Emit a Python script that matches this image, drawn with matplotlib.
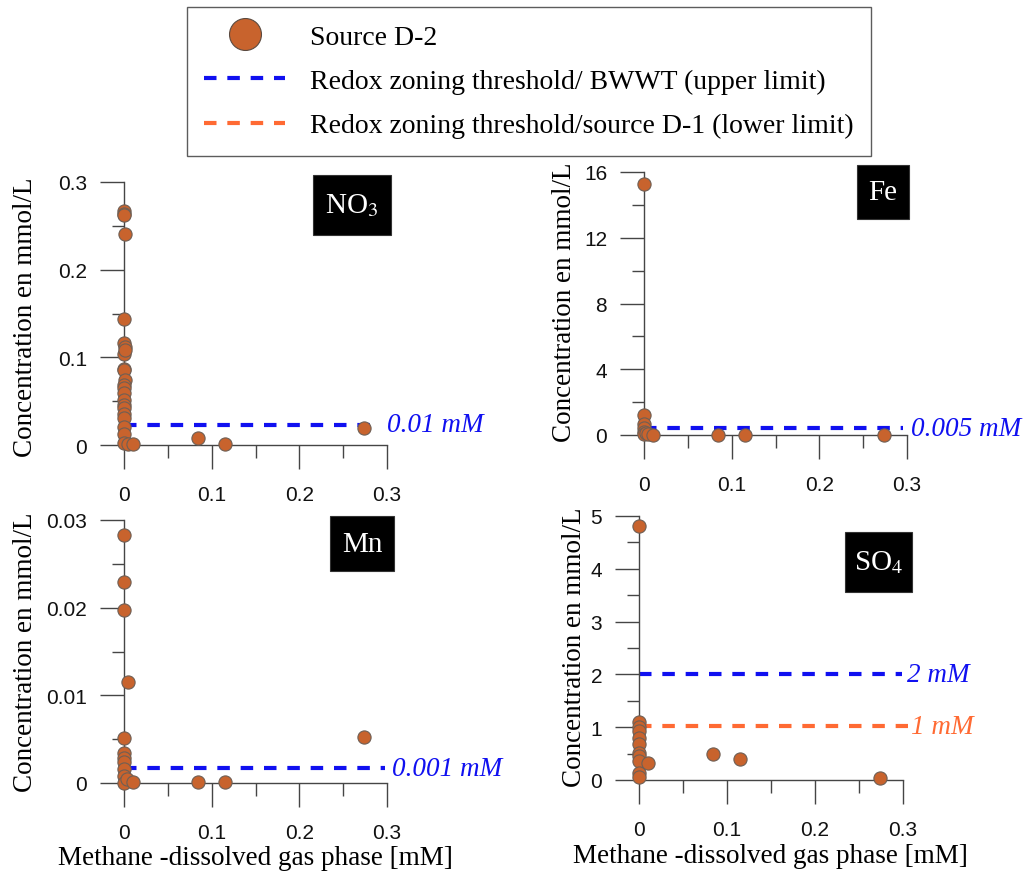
import matplotlib
matplotlib.use("Agg")
import matplotlib.pyplot as plt
from matplotlib.lines import Line2D
from matplotlib.patches import Rectangle
from matplotlib.ticker import FixedLocator

plt.rcParams['mathtext.fontset'] = 'stix'

W, H = 1032, 878

# ---------------- data ----------------
x_ticks = [0, 0.1, 0.2, 0.3]
x_ticklabels = ["0", "0.1", "0.2", "0.3"]

no3_x = [0, 0, 0, 0.001, 0, 0, 0.001, 0, 0.001, 0, 0, 0.001, 0, 0, 0, 0, 0, 0, 0, 0, 0, 0, 0, 0.005, 0.01, 0.084, 0.115, 0.274]
no3_y = [0.267, 0.264, 0.262, 0.241, 0.144, 0.116, 0.112, 0.104, 0.108, 0.087, 0.085, 0.074, 0.068, 0.065, 0.059, 0.051, 0.046, 0.042, 0.035, 0.031, 0.02, 0.013, 0.002, 0.001, 0.001, 0.0076, 0.001, 0.019]
no3_yticks = [0, 0.1, 0.2, 0.3]
no3_yticklabels = ["0", "0.1", "0.2", "0.3"]

fe_x = [0, 0, 0, 0, 0, 0, 0.002, 0.005, 0.01, 0.084, 0.115, 0.274]
fe_y = [15.3, 1.2, 0.65, 0.4, 0.2, 0.05, 0.1, 0.05, 0.02, 0.02, 0.02, 0.02]
fe_yticks = [0, 4, 8, 12, 16]
fe_yticklabels = ["0", "4", "8", "12", "16"]

mn_x = [0, 0, 0, 0.004, 0, 0, 0, 0, 0, 0, 0, 0.003, 0.01, 0.084, 0.115, 0.274]
mn_y = [0.0283, 0.0229, 0.0197, 0.0115, 0.0051, 0.0034, 0.0028, 0.0024, 0.0016, 0.0008, 0.0, 0.0005, 0.0001, 0.0001, 0.0001, 0.0053]
mn_yticks = [0, 0.01, 0.02, 0.03]
mn_yticklabels = ["0", "0.01", "0.02", "0.03"]

so4_x = [0, 0, 0, 0, 0, 0, 0, 0, 0, 0, 0, 0.01, 0.084, 0.115, 0.274]
so4_y = [4.82, 1.09, 1.0, 0.93, 0.8, 0.68, 0.52, 0.45, 0.36, 0.14, 0.05, 0.33, 0.5, 0.4, 0.04]
so4_yticks = [0, 1, 2, 3, 4, 5]
so4_yticklabels = ["0", "1", "2", "3", "4", "5"]

no3_threshold = 0.023
fe_threshold = 0.4
mn_threshold = 0.0017
so4_threshold_upper = 2.0
so4_threshold_lower = 1.02

no3_thr_label = "0.01 mM"
fe_thr_label = "0.005 mM"
mn_thr_label = "0.001 mM"
so4_upper_label = "2 mM"
so4_lower_label = "1 mM"

legend_labels = ["Source D-2",
                 "Redox zoning threshold/ BWWT (upper limit)",
                 "Redox zoning threshold/source D-1 (lower limit)"]
ylabel = "Concentration en mmol/L"
xlabel = "Methane -dissolved gas phase [mM]"

# ---------------- style ----------------
MARKER_FC = '#C8632D'
MARKER_EC = '#6e5f55'
BLUE = '#1010F0'
ORANGE = '#FF6A33'
AXCOL = '#454545'
SERIF = ['Liberation Serif', 'DejaVu Serif']
SANS = ['Liberation Sans', 'DejaVu Sans']

fig = plt.figure(figsize=(W / 100, H / 100), dpi=100)


def add_axes_px(x0, x1, y0, y1):
    # x0,x1: pixel columns of x=0 and x=0.3; y0: pixel row of y=0, y1: pixel row of top
    return fig.add_axes([x0 / W, 1 - y0 / H, (x1 - x0) / W, (y0 - y1) / H])


def style_axes(ax, yticks, yticklabels, ymax, yminor):
    ax.set_xlim(0, 0.3)
    ax.set_ylim(0, ymax)
    for s in ['top', 'right']:
        ax.spines[s].set_visible(False)
    for s in ['left', 'bottom']:
        ax.spines[s].set_color(AXCOL)
        ax.spines[s].set_linewidth(1.0)
    ax.set_xticks(x_ticks)
    ax.set_xticklabels(x_ticklabels)
    ax.xaxis.set_minor_locator(FixedLocator([0.05, 0.15, 0.25]))
    ax.set_yticks(yticks)
    ax.set_yticklabels(yticklabels)
    ax.yaxis.set_minor_locator(FixedLocator(yminor))
    ax.tick_params(which='major', direction='out', length=17.5, width=1.0, color=AXCOL,
                   labelsize=15, labelcolor='#111111')
    ax.tick_params(axis='x', which='major', pad=11)
    ax.tick_params(axis='y', which='major', pad=9)
    ax.tick_params(which='minor', direction='out', length=9, width=1.0, color=AXCOL)
    for lab in ax.get_xticklabels() + ax.get_yticklabels():
        lab.set_family(SANS)
    ax.patch.set_alpha(0)


def scatter(ax, x, y):
    ax.scatter(x, y, s=9.5 ** 2, c=MARKER_FC, edgecolors=MARKER_EC, linewidths=0.8,
               clip_on=False, zorder=3)


def threshold(ax, yv, color, xend, label, xtext):
    ax.plot([0, xend], [yv, yv], color=color, lw=3.0, linestyle=(0, (3, 2.6)),
            clip_on=False, zorder=2)
    ax.text(xtext, yv, label, color=color, fontsize=19.5, style='italic',
            family=SERIF, va='center', ha='left', clip_on=False)


def label_box(x0, y0, x1, y1, txt, tx=None):
    fig.patches.append(Rectangle((x0 / W, 1 - y1 / H), (x1 - x0) / W, (y1 - y0) / H,
                                 transform=fig.transFigure, facecolor='black',
                                 edgecolor='#333333', lw=0.8, zorder=5))
    cx = (x0 + x1) / 2 if tx is None else tx
    fig.text(cx / W, 1 - (y0 + y1) / 2 / H, txt, color='white', family=SERIF,
             fontsize=21, ha='center', va='center', zorder=6)


# NO3
ax1 = add_axes_px(124, 387, 446, 183)
style_axes(ax1, no3_yticks, no3_yticklabels, 0.3, [0.05, 0.15, 0.25])
scatter(ax1, no3_x, no3_y)
threshold(ax1, no3_threshold, BLUE, 0.289, no3_thr_label, 0.3)
ax1.set_ylabel(ylabel, family=SERIF, fontsize=19.5)
ax1.yaxis.set_label_coords(-0.327, 0.49)

# Fe
ax2 = add_axes_px(644, 907, 436, 173)
style_axes(ax2, fe_yticks, fe_yticklabels, 16, [2, 6, 10, 14])
scatter(ax2, fe_x, fe_y)
threshold(ax2, fe_threshold, BLUE, 0.295, fe_thr_label, 0.304)
ax2.set_ylabel(ylabel, family=SERIF, fontsize=19.5)
ax2.yaxis.set_label_coords(-0.255, 0.51)

# Mn
ax3 = add_axes_px(124, 387, 784, 521)
style_axes(ax3, mn_yticks, mn_yticklabels, 0.03, [0.005, 0.015, 0.025])
scatter(ax3, mn_x, mn_y)
threshold(ax3, mn_threshold, BLUE, 0.298, mn_thr_label, 0.306)
ax3.set_ylabel(ylabel, family=SERIF, fontsize=19.5)
ax3.yaxis.set_label_coords(-0.327, 0.50)
ax3.set_xlabel(xlabel, family=SERIF, fontsize=19.5)
ax3.xaxis.set_label_coords(0.50, -0.235)

# SO4
ax4 = add_axes_px(639, 903, 781, 517)
style_axes(ax4, so4_yticks, so4_yticklabels, 5, [0.5, 1.5, 2.5, 3.5, 4.5])
scatter(ax4, so4_x, so4_y)
threshold(ax4, so4_threshold_upper, BLUE, 0.299, so4_upper_label, 0.3045)
threshold(ax4, so4_threshold_lower, ORANGE, 0.306, so4_lower_label, 0.309)
ax4.set_ylabel(ylabel, family=SERIF, fontsize=19.5)
ax4.yaxis.set_label_coords(-0.197, 0.505)
ax4.set_xlabel(xlabel, family=SERIF, fontsize=19.5)
ax4.xaxis.set_label_coords(0.496, -0.24)

# label boxes
label_box(313, 176, 391, 236, r'NO$_3$')
label_box(857, 166, 909, 220, 'Fe')
label_box(330, 517, 394, 572, 'Mn')
label_box(845, 533, 912, 593, r'SO$_4$')

# legend
handles = [
    Line2D([], [], linestyle='none', marker='o', markersize=23, markerfacecolor=MARKER_FC,
           markeredgecolor='#5a4a40', markeredgewidth=0.8),
    Line2D([], [], color=BLUE, lw=3.0, linestyle=(0, (3, 2.6))),
    Line2D([], [], color=ORANGE, lw=3.0, linestyle=(0, (3, 2.6))),
]
leg = fig.legend(handles, legend_labels, loc='upper left',
                 bbox_to_anchor=(187 / W, 1 - 8 / H),
                 prop={'family': SERIF, 'size': 20}, frameon=True, fancybox=False,
                 edgecolor='#333333', handlelength=2.9, handletextpad=0.9,
                 labelspacing=0.68, borderpad=0.62, borderaxespad=0)
leg.get_frame().set_linewidth(1.0)

fig.savefig('out.png', dpi=100)
